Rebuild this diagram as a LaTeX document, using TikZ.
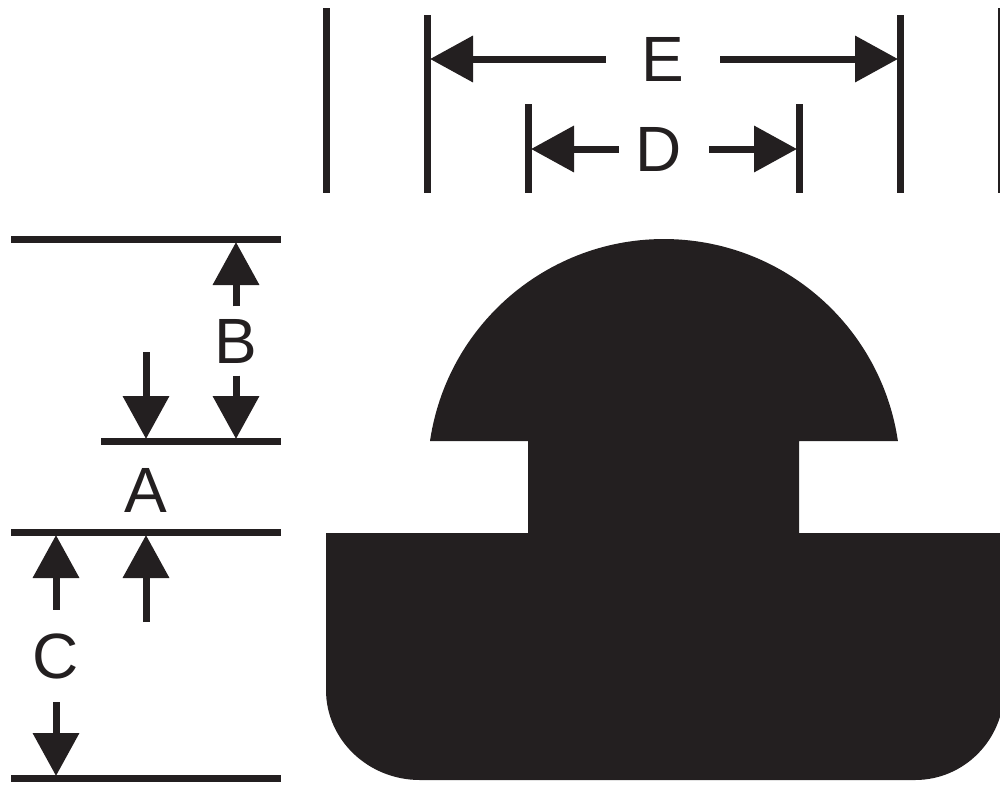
\documentclass[tikz,border=0pt]{standalone}
\usepackage{fontspec}
\setmainfont{Liberation Sans}
\usetikzlibrary{arrows.meta}
\definecolor{inkblack}{HTML}{231F20}
\begin{document}
\begin{tikzpicture}[x=1pt,y=-1pt]
\tikzset{dimline/.style={line width=7pt,color=inkblack},
dimarrow/.style={line width=7pt,color=inkblack,-{Triangle[length=43pt,width=45pt]}},
dimlabel/.style={text=inkblack,inner sep=0pt,font=\fontsize{64}{64}\selectfont},
profile/.style={fill=inkblack,draw=none}}
\useasboundingbox (0,0) rectangle (1000,785);
\fill[profile] (326,533) -- (528,533) -- (528,441) -- (430,441)
  arc[start angle=188.4,end angle=351.6,radius=236.5] -- (799,441) -- (799,533) -- (1004,533)
  -- (1004,690) arc[start angle=0,end angle=90,x radius=89,y radius=90] -- (420,780)
  arc[start angle=90,end angle=180,x radius=94,y radius=90] -- cycle;
% extension lines
\coordinate (wa) at (326,8); \coordinate (wb) at (326,193);
\coordinate (ea) at (427,15); \coordinate (eb) at (427,193);
\coordinate (da) at (528,104); \coordinate (db) at (528,193);
\coordinate (dc) at (799,104); \coordinate (dd) at (799,193);
\coordinate (ec) at (900,15); \coordinate (ed) at (900,193);
\coordinate (wc) at (1001,8); \coordinate (wd) at (1001,193);
\draw[dimline] (wa) -- (wb);
\draw[dimline] (ea) -- (eb);
\draw[dimline] (da) -- (db);
\draw[dimline] (dc) -- (dd);
\draw[dimline] (ec) -- (ed);
\draw[dimline] (wc) -- (wd);
\coordinate (top1) at (11,239); \coordinate (top2) at (281,239);
\coordinate (mid1) at (101,441); \coordinate (mid2) at (281,441);
\coordinate (low1) at (11,532); \coordinate (low2) at (281,532);
\coordinate (bot1) at (11,778); \coordinate (bot2) at (281,778);
\draw[dimline] (top1) -- (top2);
\draw[dimline] (mid1) -- (mid2);
\draw[dimline] (low1) -- (low2);
\draw[dimline] (bot1) -- (bot2);
% labels
\node[dimlabel,minimum width=114pt](lbE) at (663,59){E};
\node[dimlabel,minimum width=90pt](lbD) at (664,149){D\kern10pt};
\node[dimlabel,minimum height=69pt](lbB) at (236,341){B};
\node[dimlabel](lbA) at (146,490){A};
\node[dimlabel,minimum height=92pt](lbC) at (56,656){C};
% arrows
\coordinate (tipEl) at (430,59); \coordinate (tipEr) at (898,59);
\coordinate (tipDl) at (531,149); \coordinate (tipDr) at (797,149);
\coordinate (tipBu) at (236,242); \coordinate (tipBd) at (236,439);
\coordinate (tipCu) at (56,535); \coordinate (tipCd) at (56,776);
\coordinate (tailAd) at (146,352); \coordinate (tipAd) at (146,439);
\coordinate (tailAu) at (146,622); \coordinate (tipAu) at (146,535);
\draw[dimarrow] (lbE.west) -- (tipEl);
\draw[dimarrow] (lbE.east) -- (tipEr);
\draw[dimarrow] (lbD.west) -- (tipDl);
\draw[dimarrow] (lbD.east) -- (tipDr);
\draw[dimarrow] (lbB.north) -- (tipBu);
\draw[dimarrow] (lbB.south) -- (tipBd);
\draw[dimarrow] (lbC.north) -- (tipCu);
\draw[dimarrow] (lbC.south) -- (tipCd);
\draw[dimarrow] (tailAd) -- (tipAd);
\draw[dimarrow] (tailAu) -- (tipAu);
\end{tikzpicture}
\end{document}
